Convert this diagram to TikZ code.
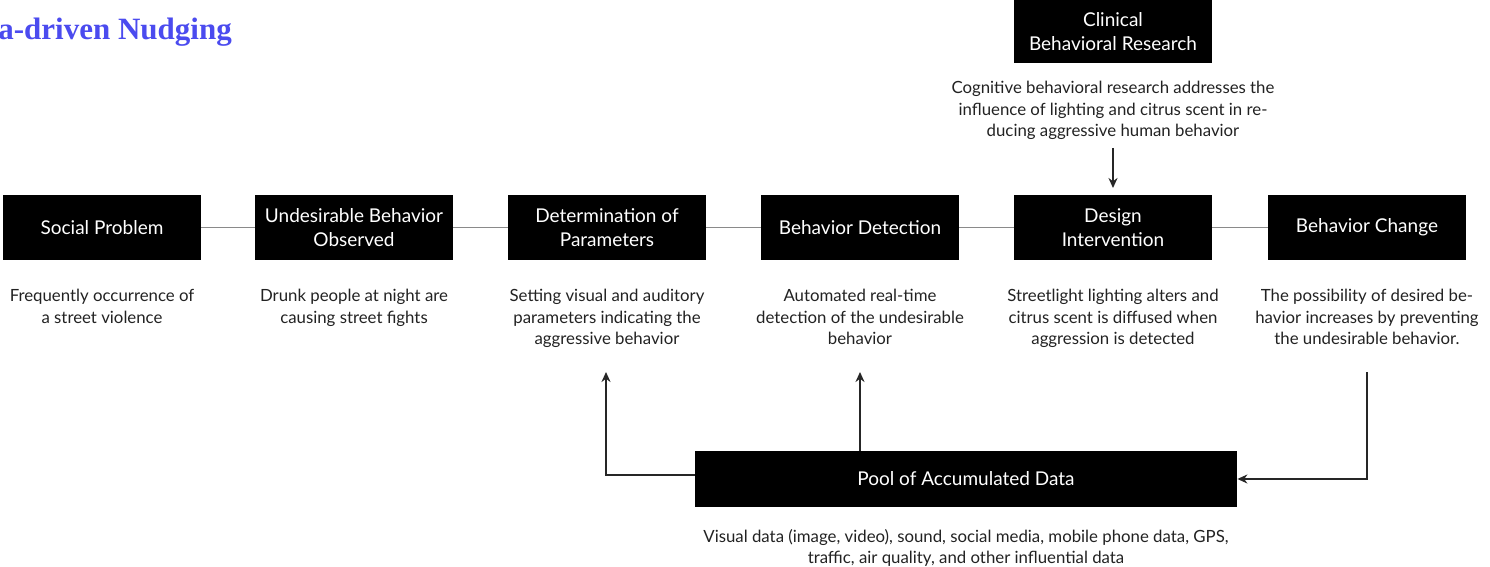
\documentclass[tikz,border=0pt]{standalone}
\usepackage{fontspec}
\setmainfont{Lato}
\newfontfamily\titlefont{Liberation Serif}
\usetikzlibrary{arrows.meta}
\definecolor{titleblue}{HTML}{4B4BEF}
\definecolor{linegray}{HTML}{8A8A8A}
\definecolor{txtgray}{HTML}{222222}
\begin{document}
\begin{tikzpicture}[x=0.5pt,y=-0.5pt,
  blackbox/.style={fill=black,text=white,minimum width=99pt,minimum height=32.5pt,align=center,inner sep=0pt,font=\fontsize{9.5}{11.8}\selectfont},
  desc/.style={align=center,text=txtgray,inner sep=0pt,font=\fontsize{8.4}{10.7}\selectfont},
  link/.style={draw=linegray,line width=0.7pt},
  arr/.style={draw=black!85,line width=0.9pt,-{Stealth[length=5pt,width=4.5pt]}}]
\useasboundingbox (0,0) rectangle (1490,567);
\node[anchor=west,text=titleblue,inner sep=0pt,font=\titlefont\bfseries\fontsize{15.5}{18}\selectfont] (title) at (-2,32) {a-driven Nudging};
\node[blackbox] (sp) at (102,227.5) {Social Problem};
\node[blackbox] (ub) at (354,227.5) {Undesirable Behavior\\Observed};
\node[blackbox] (dp) at (607,227.5) {Determination of\\Parameters};
\node[blackbox] (bd) at (860,227.5) {Behavior Detection};
\node[blackbox] (di) at (1113,227.5) {Design\\Intervention};
\node[blackbox] (bc) at (1367,227.5) {Behavior Change};
\node[blackbox,minimum height=31.5pt] (cb) at (1113,31.5) {Clinical\\Behavioral Research};
\node[blackbox,minimum width=271pt,minimum height=28pt] (pool) at (966,479) {Pool of Accumulated Data};
\draw[link] (sp) -- (ub);
\draw[link] (ub) -- (dp);
\draw[link] (dp) -- (bd);
\draw[link] (bd) -- (di);
\draw[link] (di) -- (bc);
\node[desc,anchor=north] (spd) at (102,289) {Frequently occurrence of\\a street violence};
\node[desc,anchor=north] (ubd) at (354,289) {Drunk people at night are\\causing street fights};
\node[desc,anchor=north] (dpd) at (607,289) {Setting visual and auditory\\parameters indicating the\\aggressive behavior};
\node[desc,anchor=north] (bdd) at (860,289) {Automated real-time\\detection of the undesirable\\behavior};
\node[desc,anchor=north] (did) at (1113,289) {Streetlight lighting alters and\\citrus scent is diffused when\\aggression is detected};
\node[desc,anchor=north] (bcd) at (1367,289) {The possibility of desired be-\\havior increases by preventing\\the undesirable behavior.};
\node[desc,anchor=north] (cbd) at (1113,81) {Cognitive behavioral research addresses the\\influence of lighting and citrus scent in re-\\ducing aggressive human behavior};
\node[desc,anchor=north] (pd) at (966,529) {Visual data (image, video), sound, social media, mobile phone data, GPS,\\traffic, air quality, and other influential data};
\coordinate (a1) at (606,372);
\coordinate (a2) at (860,372);
\coordinate (a3) at (1367,372);
\coordinate (a4) at (1113,148);
\coordinate (a5) at (1113,188);
\draw[arr] (pool.west |- 0,475) -| (a1);
\draw[arr] (pool.north -| a2) -- (a2);
\draw[arr] (a3) |- (pool.east);
\draw[arr] (a4) -- (a5);
\end{tikzpicture}
\end{document}
